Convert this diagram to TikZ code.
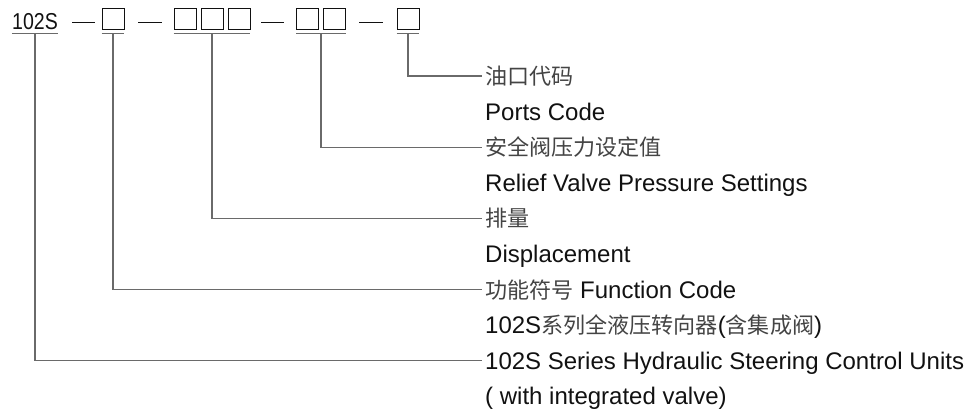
\documentclass[tikz,border=0pt]{standalone}
\usepackage{fontspec}
\setmainfont{Liberation Sans}
\newfontfamily\cjk{Noto Sans CJK SC}[Scale=0.92,Color=444444]
\usetikzlibrary{positioning,calc}
\definecolor{ink}{HTML}{111111}
\definecolor{wire}{HTML}{6A6A6A}
\newcommand\narrowcode[1]{\scalebox{0.85}[1]{#1}}
\tikzset{
  every node/.style={font=\fontsize{24bp}{28bp}\selectfont, text=ink},
  code/.style={inner sep=0pt, anchor=base, font=\fontsize{23bp}{27bp}\selectfont},
  slot/.style={draw=ink, line width=0.9bp, minimum width=22bp, minimum height=21bp, inner sep=0pt},
  lbl/.style={anchor=west, inner xsep=3bp, inner ysep=0pt, text height=17bp, text depth=0bp},
  lead/.style={draw=wire, line width=1.2bp},
  rule/.style={draw=wire, line width=1.4bp},
  sep/.style={draw=ink, line width=0.9bp},
}

\begin{document}
\begin{tikzpicture}[x=1bp, y=-1bp]
\useasboundingbox (0,0) rectangle (969,414);

% model code
\node[code] (series) at (35,29) {\narrowcode{102S}};
\node[slot] (fn) at (113,19) {};
\node[slot] (dispA) at (185,19) {};
\node[slot] (dispB) at (212,19) {};
\node[slot] (dispC) at (239,19) {};
\node[slot] (reliefA) at (307.5,19) {};
\node[slot] (reliefB) at (334.5,19) {};
\node[slot] (port) at (408,19) {};

\draw[sep] (72,22) -- (95,22);
\draw[sep] (138,22) -- (162,22);
\draw[sep] (261,22) -- (284,22);
\draw[sep] (359,22) -- (383,22);

% underlines
\draw[rule] ([yshift=-4bp]series.south west) -- ([yshift=-4bp]series.south east);
\draw[rule] ([yshift=-3.5bp]fn.south west) -- ([yshift=-3.5bp]fn.south east);
\draw[rule] ([yshift=-3.5bp]dispA.south west) -- ([yshift=-3.5bp]dispC.south east);
\draw[rule] ([yshift=-3.5bp]reliefA.south west) -- ([yshift=-3.5bp]reliefB.south east);
\draw[rule] ([yshift=-3.5bp]port.south west) -- ([yshift=-3.5bp]port.south east);

% labels
\node[lbl] (t-port) at (482,76) {\cjk 油口代码};
\node[lbl] (e-port) at (482,111.6) {Ports Code};
\node[lbl] (t-relief) at (482,147.2) {\cjk 安全阀压力设定值};
\node[lbl] (e-relief) at (482,182.8) {Relief Valve Pressure Settings};
\node[lbl] (t-disp) at (482,218.4) {\cjk 排量};
\node[lbl] (e-disp) at (482,254) {Displacement};
\node[lbl] (t-fn) at (482,289.6) {{\cjk 功能符号} Function Code};
\node[lbl] (c-series) at (482,325.2) {102S{\cjk 系列全液压转向器}({\cjk 含集成阀})};
\node[lbl] (t-series) at (482,360.8) {102S Series Hydraulic Steering Control Units};
\node[lbl] (e-series) at (482,396.4) {( with integrated valve)};

% leaders
\draw[lead] ([yshift=-4bp]series.south) |- (t-series.west);
\draw[lead] ([yshift=-3.5bp]fn.south) |- (t-fn.west);
\draw[lead] ([yshift=-3.5bp]dispB.south) |- (t-disp.west);
\draw[lead] ([yshift=-3.5bp]$(reliefA.south)!0.5!(reliefB.south)$) |- (t-relief.west);
\draw[lead] ([yshift=-3.5bp]port.south) |- (t-port.west);

\end{tikzpicture}
\end{document}
